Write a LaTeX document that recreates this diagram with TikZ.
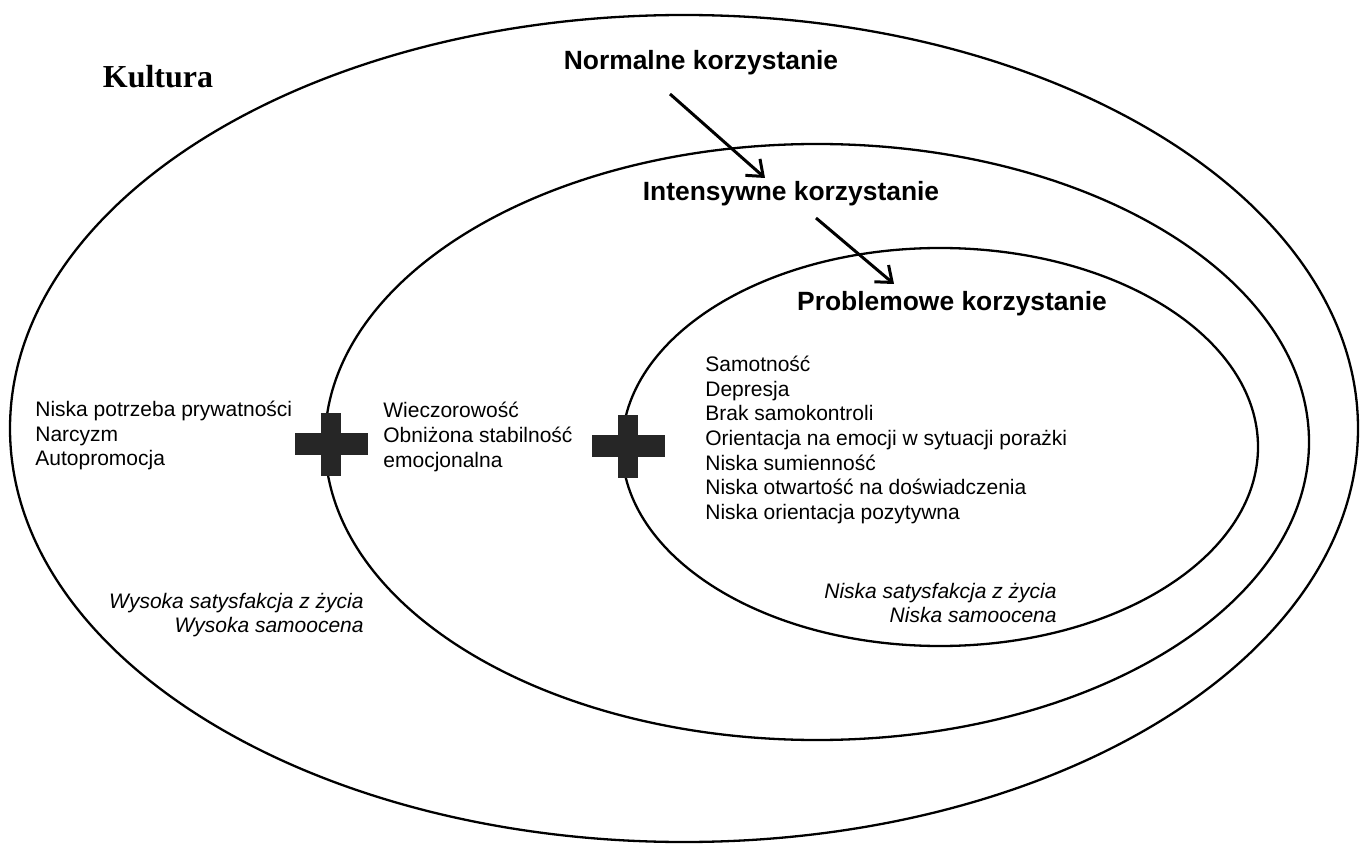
\documentclass[tikz,border=0pt]{standalone}
\usepackage{fontspec}
\setmainfont{Liberation Sans}
\newfontfamily\serifbold{Liberation Serif}
\usetikzlibrary{arrows.meta}
\usetikzlibrary{calc}

\begin{document}
\begin{tikzpicture}[x=0.5pt,y=-0.5pt]
\tikzstyle{ring} = [draw=black,line width=1.15pt]
\tikzstyle{stage} = [font=\fontsize{13.2}{15}\selectfont\bfseries,inner sep=0pt]
\tikzstyle{factors} = [font=\fontsize{10.5}{12.3}\selectfont,inner sep=0pt,align=left,anchor=west]
\tikzstyle{outcome} = [font=\fontsize{10.5}{12.3}\selectfont\itshape,inner sep=0pt,align=right,anchor=east]
\tikzstyle{plusbar} = [fill=black!85]
\tikzstyle{arr} = [line width=1.5pt,-{Straight Barb[length=7pt,width=11pt]}]
\useasboundingbox (0,0) rectangle (1364,844);
% three levels of use
\draw[ring] (684,428.5) ellipse [x radius=337pt,y radius=206.75pt];
\draw[ring] (817,442) ellipse [x radius=246pt,y radius=149pt];
\draw[ring] (940,447) ellipse [x radius=159pt,y radius=99.5pt];
\coordinate (plusA) at (331,444);
\coordinate (plusB) at (628,446);
\foreach \c in {plusA,plusB} {
  \fill[plusbar] ($(\c)+(-36.5,-11)$) rectangle ($(\c)+(36.5,11)$);
  \fill[plusbar] ($(\c)+(-10,-31.5)$) rectangle ($(\c)+(10,31.5)$);
}
\node[font=\fontsize{16}{18}\selectfont\serifbold\bfseries,inner sep=0pt] (kultura) at (158,77) {Kultura};
\node[stage] (norm) at (701,63) {Normalne korzystanie};
\node[stage] (inten) at (791,194) {Intensywne korzystanie};
\node[stage] (prob) at (952,304) {Problemowe korzystanie};
\draw[arr] ($(norm.center)+(-31,31)$) -- ($(inten.center)+(-26,-16)$);
\draw[arr] ($(inten.center)+(25,24)$) -- ($(prob.center)+(-58,-20)$);
% predictors
\node[factors] (outerlist) at (35,435.5) {Niska potrzeba prywatności\\Narcyzm\\Autopromocja};
\node[factors] (midlist) at (383,437) {Wieczorowość\\Obniżona stabilność\\emocjonalna};
\node[factors] (innerlist) at (705,440) {Samotność\\Depresja\\Brak samokontroli\\Orientacja na emocji w sytuacji porażki\\Niska sumienność\\Niska otwartość na doświadczenia\\Niska orientacja pozytywna};
\node[outcome] (highsat) at (364,615) {Wysoka satysfakcja z życia\\Wysoka samoocena};
\node[outcome] (lowsat) at (1057,603) {Niska satysfakcja z życia\\Niska samoocena};
\end{tikzpicture}
\end{document}
